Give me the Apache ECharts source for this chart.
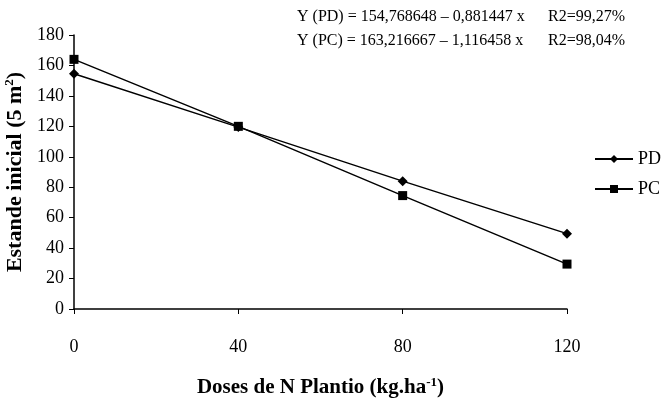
<!DOCTYPE html>
<html><head><meta charset="utf-8">
<script src="https://cdn.jsdelivr.net/npm/echarts@6/dist/echarts.min.js"></script>
<style>html,body{margin:0;padding:0;background:#fff}#c{width:665px;height:400px}</style>
</head><body><div id="c"></div>
<script>
const doses = [0, 40, 80, 120];
const pd = [154.5, 119.5, 84, 49.5];
const pc = [164, 120, 74.5, 29.5];
const yTicks = [0, 20, 40, 60, 80, 100, 120, 140, 160, 180];
const xTicks = [0, 40, 80, 120];
const eqPD = 'Y (PD) = 154,768648 – 0,881447 x';
const eqPC = 'Y (PC) = 163,216667 – 1,116458 x';
const r2PD = 'R2=99,27%';
const r2PC = 'R2=98,04%';

const font = 'Liberation Serif, Times New Roman, serif';
const chart = echarts.init(document.getElementById('c'));
chart.setOption({
  animation: false,
  backgroundColor: '#fff',
  textStyle: {fontFamily: font},
  grid: {left: 74, right: 98, top: 35, bottom: 91, outerBoundsMode: 'none'},
  graphic: [
    {type: 'text', left: 297, top: 9, style: {text: eqPD, font: '16px ' + font, fill: '#000'}},
    {type: 'text', left: 548, top: 9, style: {text: r2PD, font: '16px ' + font, fill: '#000'}},
    {type: 'text', left: 297, top: 33, style: {text: eqPC, font: '16px ' + font, fill: '#000'}},
    {type: 'text', left: 548, top: 33, style: {text: r2PC, font: '16px ' + font, fill: '#000'}}
  ],
  legend: {
    orient: 'vertical', left: 589, top: 145, itemGap: 12,
    itemWidth: 38, itemHeight: 10,
    textStyle: {fontFamily: font, fontSize: 18, color: '#000'},
    data: [{name: 'PD'}, {name: 'PC'}]
  },
  xAxis: {
    type: 'value', min: 0, max: 120, interval: 40,
    name: '{b|Doses de N Plantio (kg.ha}{s|-1}{b|)}',
    nameLocation: 'middle', nameGap: 67,
    nameTextStyle: {rich: {b: {fontFamily: font, fontSize: 21, fontWeight: 'bold', color: '#000'}, s: {fontFamily: font, fontSize: 13, fontWeight: 'bold', color: '#000', padding: [0, 0, 10, 0]}}},
    axisLine: {lineStyle: {color: '#000', width: 1.5}},
    axisTick: {show: true, length: 5, lineStyle: {color: '#000'}},
    axisLabel: {fontFamily: font, fontSize: 18, color: '#000', margin: 29},
    splitLine: {show: false}
  },
  yAxis: {
    type: 'value', min: 0, max: 180, interval: 20,
    name: '{b|Estande inicial (5 m}{s|2}{b|)}',
    nameLocation: 'middle', nameGap: 41, nameRotate: 90,
    nameTextStyle: {rich: {b: {fontFamily: font, fontSize: 22, fontWeight: 'bold', color: '#000'}, s: {fontFamily: font, fontSize: 13, fontWeight: 'bold', color: '#000', padding: [0, 0, 10, 0]}}},
    axisLine: {show: true, lineStyle: {color: '#000', width: 1.5}},
    axisTick: {show: true, length: 5, lineStyle: {color: '#000'}},
    axisLabel: {fontFamily: font, fontSize: 18, color: '#000', margin: 10},
    splitLine: {show: false}
  },
  series: [
    {name: 'PD', type: 'line', data: doses.map((d, i) => [d, pd[i]]),
     symbol: 'diamond', symbolSize: 10, itemStyle: {color: '#000'},
     lineStyle: {color: '#000', width: 1.5}},
    {name: 'PC', type: 'line', data: doses.map((d, i) => [d, pc[i]]),
     symbol: 'rect', symbolSize: 9, itemStyle: {color: '#000'},
     lineStyle: {color: '#000', width: 1.5}}
  ]
});
</script></body></html>
